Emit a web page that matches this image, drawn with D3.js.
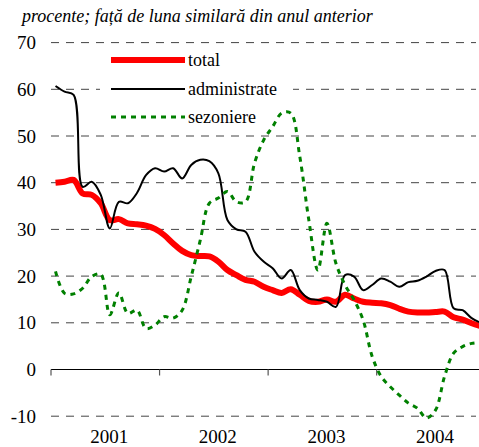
<!DOCTYPE html>
<html><head><meta charset="utf-8">
<script src="https://cdn.jsdelivr.net/npm/d3@7/dist/d3.min.js"></script>
<style>body{margin:0;background:#fff}svg{display:block}
svg text{font-family:"Liberation Serif","Times New Roman",Times,"DejaVu Serif","Noto Serif",serif !important}</style>
</head><body>
<svg id="c" width="479" height="447"></svg>
<script>
// monthly data Jan 2001 .. Dec 2004
const years = ["2001","2002","2003","2004"];
const yTicks = [70,60,50,40,30,20,10,0,-10];
const seriesNames = ["total","administrate","sezoniere"];
const total = [40,40.2,40.6,37.7,37.4,35.6,32,32.2,31.3,31.1,30.8,30.1,
  28.8,27,25.4,24.5,24.3,24.2,23.1,21.3,20.2,19.2,18.8,17.7,
  17,16.4,17.2,16,14.7,14.5,15,14.5,16,15.2,14.5,14.3,
  14.2,13.8,13,12.4,12.2,12.2,12.3,12.4,11.2,10.7,9.9,9.3];
const administrate = [60.7,59.5,58.8,39.1,40.2,37.4,30.2,35.9,35.6,37.8,41.6,43.1,
  42.4,43.1,40.9,43.8,44.9,44.6,42,32,30,29.5,25.2,23.1,
  21.7,19.5,21.3,17,15.2,14.9,14.5,13.4,20.2,19.9,17,18.1,
  19.5,18.8,17.7,18.7,19,19.9,21.1,21.3,13.1,12.7,11,10];
const sezoniere = [21,16.3,16.2,17.4,19.9,20.4,11.7,16.4,12,12.7,8.8,9.5,
  11.3,11,12.7,19.9,27.7,35.6,36.7,38.1,35.9,35.9,44.2,49.1,
  52,54.9,54.9,45.6,32,21.3,31.3,22.7,18.1,14.9,10.6,2.8,
  -1.5,-3.7,-5.5,-7.2,-8.3,-10.4,-8.7,-1.5,3.5,4.9,5.6,5.8];

const svg = d3.select("#c");
const x = d3.scaleLinear().domain([-0.5, 47.5]).range([51, 51 + 48*9.047]);
const y = d3.scaleLinear().domain([-10, 70]).range([416.2, 42.6]);
const FF = "'Liberation Serif', 'Times New Roman', Times, 'DejaVu Serif', serif";

// title
svg.append("text").attr("x", 22).attr("y", 22).attr("font-size", 18).style("font-family", FF)
  .attr("font-style", "italic").text("procente; față de luna similară din anul anterior");

// gridlines
svg.append("g").selectAll("line").data(yTicks.filter(d => d !== 0)).join("line")
  .attr("x1", 51).attr("x2", 476)
  .attr("y1", d => y(d)).attr("y2", d => y(d))
  .attr("stroke", "#444").attr("stroke-width", 1).attr("stroke-dasharray", "8,7");

// y labels
svg.append("g").selectAll("text").data(yTicks).join("text")
  .attr("x", 36).attr("y", d => y(d)).attr("dy", "0.35em").style("font-family", FF)
  .attr("text-anchor", "end").attr("font-size", 19).text(d => d);

// x axis
svg.append("line").attr("x1", 51).attr("x2", 479).attr("y1", y(0)).attr("y2", y(0))
  .attr("stroke", "#000").attr("stroke-width", 1.2);
svg.append("g").selectAll("line").data([0,1,2,3]).join("line")
  .attr("x1", d => x(d*12 - 0.5)).attr("x2", d => x(d*12 - 0.5))
  .attr("y1", y(0)).attr("y2", y(0) + 6)
  .attr("stroke", "#555").attr("stroke-width", 1.2);
svg.append("g").selectAll("text").data(years).join("text")
  .attr("x", (d, i) => x(i*12 + 5.5) + 4).attr("y", 443).style("font-family", FF)
  .attr("text-anchor", "middle").attr("font-size", 19).text(d => d);

// legend background (hides gridline)
svg.append("rect").attr("x", 100).attr("y", 50).attr("width", 193).attr("height", 76).attr("fill", "#fff");

const line = d3.line().x((d, i) => x(i)).y(d => y(d)).curve(d3.curveCatmullRom.alpha(0.5));
const styles = [
  {data: total, color: "#ff0000", w: 6, dash: null},
  {data: administrate, color: "#000", w: 2, dash: null},
  {data: sezoniere, color: "#008000", w: 3, dash: "5,5"}
];
styles.forEach(s => {
  svg.append("path").attr("d", line(s.data)).attr("fill", "none")
    .attr("stroke", s.color).attr("stroke-width", s.w)
    .attr("stroke-dasharray", s.dash).attr("stroke-linejoin", "round");
});

// legend
const ly = [60, 89, 117];
styles.forEach((s, i) => {
  svg.append("line").attr("x1", 111).attr("x2", 185).attr("y1", ly[i]).attr("y2", ly[i])
    .attr("stroke", s.color).attr("stroke-width", s.w).attr("stroke-dasharray", s.dash);
  svg.append("text").attr("x", 188).attr("y", ly[i]).attr("dy", "0.33em").style("font-family", FF)
    .attr("font-size", 18).text(seriesNames[i]);
});
</script>
</body></html>
